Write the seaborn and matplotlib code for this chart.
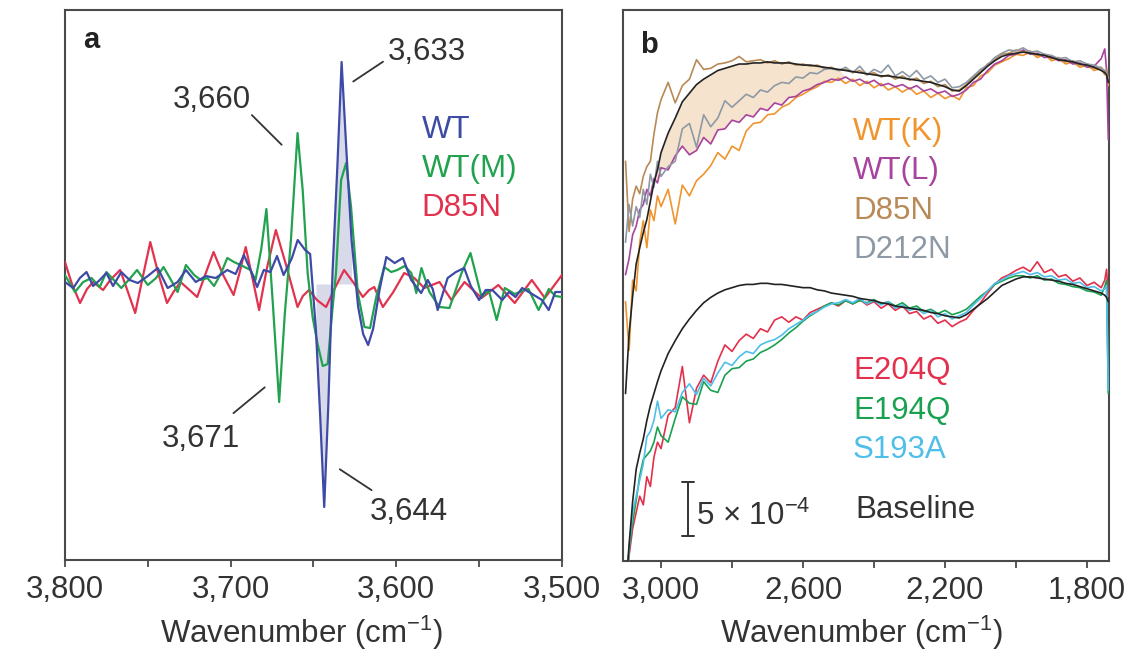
import numpy as np
import matplotlib
matplotlib.use("Agg")
import matplotlib.pyplot as plt
import matplotlib.transforms as mtransforms
from matplotlib.ticker import FixedLocator
import seaborn as sns

# ---------------- panel a: second-derivative spectra ----------------
wt_wn = [3800, 3795, 3791, 3787, 3783, 3779, 3775, 3771, 3766, 3761,
         3756, 3750, 3744, 3738, 3732, 3727, 3721, 3715, 3709, 3702,
         3697, 3692, 3688, 3684, 3680, 3676, 3672, 3668, 3663, 3659.5,
         3655, 3652, 3648.5, 3646, 3643.5, 3641, 3638.5, 3635.5, 3633, 3630,
         3627, 3623, 3620, 3617, 3614, 3610, 3606, 3601, 3596, 3591,
         3585, 3581, 3578, 3575, 3569, 3564, 3559, 3555, 3550, 3546,
         3542, 3536, 3532, 3528, 3524, 3520, 3516, 3512, 3508, 3504, 3500]
wt_d2 = [0.2, -0.4, 0.6, 1.2, -0.2, 0.4, 1.1, -0.2, 1.2, 0.4,
         0.1, 0.8, 1.6, -0.4, 0.2, 1.4, 0.2, 0.8, 0.6, 1.4,
         1.0, 2.9, 1.4, -0.3, 1.4, 1.2, 2.8, 0.9, 2.6, 4.4,
         3.4, 3.0, -4.6, -13.0, -22.3, -12.0, 1.1, 12.0, 22.2, 13.0,
         4.4, -2.3, -5.0, -6.1, -4.5, -0.5, 2.7, 2.1, 2.6, 0.4,
         -0.9, 0.4, -0.5, -2.6, 0.6, 1.2, 1.6, -0.2, -1.6, -0.6,
         -0.6, -1.6, -0.8, -1.3, -0.4, -0.8, -1.2, -1.6, -2.6, -0.8, -0.8]

wtm_wn = [3800, 3794, 3789, 3784, 3779, 3775, 3770, 3766, 3761, 3756.5,
          3750, 3745, 3740.5, 3736, 3732, 3727, 3722, 3718, 3714, 3710,
          3706, 3702, 3698, 3694, 3688, 3685, 3681.5, 3678.4, 3674.5, 3670.7,
          3667.3, 3663.6, 3659.6, 3656.5, 3653.5, 3650.5, 3647.5, 3644.4, 3641.4, 3638.8,
          3636.4, 3633.3, 3630.3, 3627.3, 3623.2, 3619.2, 3615.8, 3612.1, 3607.3, 3603,
          3599.4, 3595, 3590.9, 3587.9, 3584.8, 3580, 3573.9, 3567.9, 3560.6, 3555.2,
          3548.5, 3544.2, 3539.4, 3534.5, 3528.5, 3524, 3520.2, 3514.1, 3507.9, 3504, 3500]
wtm_d2 = [0.9, -0.8, 0.2, 0.6, -0.3, 1.2, 0.3, -0.4, 0.5, 1.4,
          -0.1, 0.6, 1.7, 0.4, -0.8, 1.9, 0.9, 0.4, 0.6, -0.2,
          1.0, 2.6, 2.2, 1.9, 1.4, 0.4, 3.5, 7.5, -2.0, -11.8,
          -3.0, 4.4, 15.1, 9.4, 1.1, -3.3, -6.0, -8.2, -8.0, -3.0,
          1.1, 10.4, 12.1, 7.7, -0.9, -4.3, -4.4, -1.3, 1.7, 1.2,
          1.4, 1.8, 1.1, -0.9, 1.6, -0.8, -2.3, -2.4, 1.1, 3.1,
          -1.3, -0.6, -3.6, -0.4, -1.0, -0.7, -0.5, -2.6, -0.5, -1.2, -1.3]

d85n_wn = [3800, 3795.8, 3790.9, 3786.7, 3783, 3777, 3772.7, 3766.7, 3762.4, 3757.6,
           3753.3, 3748.5, 3743.6, 3738.4, 3734.5, 3730.3, 3725.5, 3720.2, 3715.2, 3710.3,
           3704.8, 3698.2, 3694.5, 3690.9, 3686.7, 3682.8, 3678.2, 3672.7, 3666.7, 3659.6,
           3656.4, 3652.7, 3647.9, 3642.4, 3637, 3631.5, 3626.1, 3620.2, 3616.4, 3613.3,
           3608.1, 3601.8, 3595.2, 3589.1, 3583.1, 3573.9, 3566.7, 3558.8, 3548.5, 3538.4,
           3528.5, 3518.2, 3510.3, 3500]
d85n_d2 = [2.2, 0.0, -1.9, -0.5, 0.2, -0.6, 0.4, 1.4, -0.6, -2.9,
           0.5, 4.2, 1.0, -1.9, -0.8, 0.2, -0.5, -1.3, 1.0, 3.2,
           1.0, -1.1, 1.2, 3.7, 0.5, -2.6, 1.5, 5.4, 2.0, -2.3,
           -1.2, -0.6, -1.6, -2.3, -0.4, 1.4, 0.2, -1.3, -0.6, -0.3,
           -2.3, -0.8, 1.1, 0.6, -0.4, 0.2, -1.6, 0.2, -1.4, -0.1,
           -1.9, 0.4, -1.4, 0.9]

a_names = ["WT", "WT(M)", "D85N"]
a_colors = ["#3d4aa6", "#22a24f", "#e2334e"]
a_ticks = [3800, 3700, 3600, 3500]
a_tick_labels = ["3,800", "3,700", "3,600", "3,500"]
a_minor = [3750, 3650, 3550]
a_shade = (3627.0, 3648.5)
a_peaks = ["3,633", "3,660", "3,671", "3,644"]

# ---------------- panel b: broad continuum difference spectra ----------------
wn_b = [3100, 3090, 3080, 3070, 3060, 3050, 3040, 3030, 3020, 3010, 3000,
        2980, 2960, 2940, 2920, 2900, 2880, 2860, 2840, 2820, 2800,
        2780, 2760, 2740, 2720, 2700, 2680, 2660, 2640, 2620, 2600,
        2580, 2560, 2540, 2520, 2500, 2480, 2460, 2440, 2420, 2400,
        2380, 2360, 2340, 2320, 2300, 2280, 2260, 2240, 2220, 2200,
        2180, 2160, 2140, 2120, 2100, 2080, 2060, 2040, 2020, 2000,
        1980, 1960, 1940, 1920, 1900, 1880, 1860, 1840, 1820, 1800,
        1780, 1760,
        1750, 1745, 1740]

# absorbance change in units of 1e-4 (curves offset for display)
base_upper = [15.5, 21.0, 24.5, 27.5, 29.0, 30.4, 31.6, 33.3, 35.0, 36.2, 37.8,
              39.6, 41.0, 42.5, 43.3, 44.1, 44.6, 45.0, 45.4, 45.6, 45.8,
              46.0, 46.0, 46.1, 46.1, 46.2, 46.1, 46.1, 46.1, 46.0, 45.9,
              45.9, 45.8, 45.7, 45.6, 45.5, 45.4, 45.3, 45.2, 45.1, 45.0,
              44.9, 44.9, 44.8, 44.7, 44.6, 44.5, 44.4, 44.3, 44.1, 43.9,
              43.6, 43.5, 44.0, 44.6, 45.2, 45.8, 46.3, 46.7, 46.9, 47.0,
              47.1, 47.0, 46.9, 46.8, 46.6, 46.4, 46.3, 46.2, 46.0, 45.9,
              45.7, 45.4,
              45.2, 45.0, 44.3]
wt_k = [24.0, 19.5, 26.0, 25.0, 29.5, 31.5, 29.0, 32.5, 31.5, 33.8, 32.8,
        34.4, 31.2, 34.8, 33.8, 35.2, 35.8, 36.6, 37.8, 37.2, 38.4,
        38.0, 39.8, 40.5, 40.6, 41.3, 41.4, 42.0, 42.3, 42.9, 43.2,
        43.6, 43.9, 44.4, 44.3, 44.7, 44.2, 44.6, 44.0, 44.4, 43.8,
        44.2, 43.6, 43.9, 43.4, 43.8, 43.2, 43.5, 42.9, 43.3, 42.8,
        43.1, 42.7, 43.8, 44.0, 44.9, 45.2, 45.9, 46.2, 46.5, 46.9,
        46.8, 47.1, 46.6, 46.9, 46.3, 46.5, 46.0, 46.2, 45.7, 45.9,
        45.4, 45.6,
        45.0, 45.3, 44.0]
wt_l = [26.5, 28.0, 30.2, 31.0, 32.5, 33.0, 34.4, 33.8, 35.4, 35.0, 36.4,
        36.2, 37.5, 38.4, 37.6, 38.0, 39.2, 38.6, 39.9, 40.0, 40.8,
        40.6, 41.3, 41.1, 41.9, 41.7, 42.4, 42.2, 42.9, 43.0, 43.5,
        43.7, 44.1, 44.3, 44.6, 44.5, 44.8, 44.4, 44.6, 44.2, 44.5,
        44.0, 44.2, 43.9, 44.1, 43.7, 44.0, 43.5, 43.7, 43.3, 43.5,
        43.0, 43.2, 43.6, 44.3, 44.6, 45.4, 46.0, 46.3, 46.8, 46.9,
        47.3, 46.9, 47.0, 46.6, 46.7, 46.3, 46.4, 46.0, 46.1, 45.7,
        45.8, 46.5,
        47.4, 45.5, 39.0]
d85n_b = [37.0, 30.5, 33.5, 34.7, 34.0, 35.6, 36.5, 37.0, 39.5, 41.5, 42.7,
          44.3, 42.4, 44.0, 44.6, 46.4, 45.5, 45.6, 46.0, 46.1, 46.3,
          46.7, 46.2, 46.3, 46.4, 46.1, 46.3, 46.0, 46.2, 45.9, 46.0,
          45.8, 45.9, 45.6, 45.7, 45.4, 45.5, 45.2, 45.4, 45.0, 45.2,
          44.8, 45.0, 44.6, 44.9, 44.5, 44.7, 44.2, 44.4, 43.9, 44.1,
          43.5, 43.6, 44.1, 44.8, 45.3, 46.0, 46.4, 46.9, 47.0, 47.3,
          47.1, 47.2, 46.8, 46.9, 46.5, 46.6, 46.2, 46.3, 45.9, 46.0,
          45.6, 45.7,
          45.3, 45.5, 44.6]
d212n = [29.5, 33.0, 31.0, 32.8, 31.8, 34.4, 33.0, 35.8, 34.6, 37.0, 35.6,
         36.5, 37.0, 40.0, 40.5, 38.3, 41.3, 40.2, 41.0, 42.6, 42.0,
         42.6, 43.2, 42.9, 43.6, 43.4, 44.0, 44.3, 44.2, 44.8, 44.7,
         45.2, 45.1, 45.5, 45.6, 45.4, 45.7, 45.2, 45.8, 45.0, 45.5,
         45.2, 45.9, 44.9, 45.3, 44.8, 45.4, 44.6, 44.9, 44.3, 44.6,
         43.8, 43.9, 44.3, 44.9, 45.5, 45.9, 46.6, 47.0, 47.3, 47.2,
         47.5, 47.1, 47.2, 46.9, 46.8, 46.5, 46.6, 46.2, 46.3, 46.0,
         45.9, 45.6,
         45.4, 45.2, 44.5]

base_lower = [-3.0, 1.5, 5.5, 8.5, 10.0, 11.3, 13.0, 14.4, 15.5, 16.6, 17.6,
              19.2, 20.4, 21.5, 22.4, 23.2, 23.9, 24.4, 24.8, 25.1, 25.3,
              25.5, 25.6, 25.6, 25.7, 25.7, 25.6, 25.6, 25.5, 25.4, 25.3,
              25.3, 25.1, 25.0, 24.8, 24.7, 24.6, 24.5, 24.3, 24.2, 24.1,
              23.9, 23.8, 23.6, 23.5, 23.4, 23.3, 23.2, 23.0, 22.9, 22.7,
              22.6, 22.5, 22.8, 23.3, 23.8, 24.3, 24.9, 25.5, 25.8, 26.1,
              26.3, 26.3, 26.2, 26.1, 26.0, 25.9, 25.7, 25.6, 25.4, 25.2,
              25.0, 24.8,
              24.6, 24.4, 24.0]
e204q = [-4.0, 0.5, 3.0, 4.5, 6.0, 5.2, 7.8, 6.9, 9.6, 11.0, 10.4,
         13.5, 14.2, 18.0, 12.8, 16.0, 17.2, 16.5, 18.5, 20.0, 19.4,
         20.4, 21.0, 20.6, 21.5, 21.2, 22.3, 22.6, 22.1, 22.6, 22.3,
         23.0, 23.3, 23.6, 23.9, 23.6, 24.1, 23.8, 24.2, 23.7, 24.0,
         23.4, 23.8, 23.2, 23.6, 22.9, 23.1, 22.4, 22.7, 22.0, 22.3,
         21.7, 22.1, 22.4, 23.2, 23.9, 24.8, 25.6, 26.2, 26.5, 26.9,
         27.2, 26.8, 27.7, 26.7, 27.0, 26.3, 26.5, 25.9, 26.2, 25.5,
         25.8, 25.3,
         26.0, 27.0, 24.5]
e194q = [-3.0, 1.0, 3.6, 5.6, 7.9, 9.4, 9.8, 10.2, 11.0, 12.4, 11.6,
         11.0, 13.2, 15.2, 14.6, 14.5, 16.6, 15.8, 15.6, 17.2, 17.8,
         17.9, 18.5, 18.7, 19.3, 19.6, 20.0, 20.5, 21.1, 21.6, 22.2,
         22.7, 23.1, 23.6, 23.9, 23.7, 24.1, 23.8, 24.1, 23.9, 24.2,
         23.8, 24.0, 23.6, 23.9, 23.4, 23.6, 23.1, 23.3, 22.9, 23.2,
         22.8, 23.0, 23.3, 23.9, 24.5, 25.0, 25.6, 25.9, 26.2, 26.4,
         26.4, 26.2, 26.4, 26.0, 26.1, 25.7, 25.6, 25.4, 25.3, 25.0,
         24.9, 24.6,
         25.4, 26.0, 15.5]
s193a = [-3.5, 1.2, 4.5, 6.0, 7.5, 9.0, 11.5, 12.0, 13.0, 14.8, 13.2,
         14.0, 13.8, 15.6, 16.4, 15.4, 16.9, 16.2, 17.4, 18.4, 18.1,
         18.9, 19.4, 19.2, 20.0, 20.3, 20.5, 20.9, 21.5, 21.9, 22.3,
         22.8, 23.1, 23.5, 23.8, 23.9, 24.2, 23.9, 24.3, 23.8, 24.1,
         23.7, 24.0, 23.4, 23.7, 23.2, 23.4, 22.9, 23.2, 22.6, 22.9,
         22.4, 22.7, 23.0, 23.7, 24.3, 25.0, 25.7, 26.0, 26.4, 26.6,
         26.8, 26.5, 26.7, 26.3, 26.4, 26.0, 26.1, 25.7, 25.8, 25.3,
         25.4, 25.0,
         25.2, 25.5, 15.8]

b_upper_names = ["WT(K)", "WT(L)", "D85N", "D212N"]
b_upper_colors = ["#f0952d", "#a8449e", "#b98a55", "#8e99a6"]
b_lower_names = ["E204Q", "E194Q", "S193A"]
b_lower_colors = ["#e3304c", "#1aa150", "#4fbfea"]
b_ticks = [3000, 2600, 2200, 1800]
b_tick_labels = ["3,000", "2,600", "2,200", "1,800"]
b_minor = [2800, 2400, 2000]
b_shade = (2500, 3040)
scale_bar = (2.3, 7.3)          # 5 x 1e-4 absorbance

# ---------------- styling ----------------
sns.set_theme(style="white")
plt.rcParams["font.family"] = ["Liberation Sans", "DejaVu Sans"]
plt.rcParams["mathtext.fontset"] = "custom"
plt.rcParams["mathtext.rm"] = "Liberation Sans"
plt.rcParams["mathtext.it"] = "Liberation Sans:italic"
plt.rcParams["mathtext.bf"] = "Liberation Sans:bold"

TXT = "#333333"
FS = 22.5
SPINE = "#4a4a4a"

fig = plt.figure(figsize=(11.32, 6.58), dpi=100)
ax_a = fig.add_axes([0.0574, 0.1489, 0.4390, 0.8359])
ax_b = fig.add_axes([0.5504, 0.1474, 0.4293, 0.8374])

for ax in (ax_a, ax_b):
    for s in ax.spines.values():
        s.set_color(SPINE)
        s.set_linewidth(1.5)
    ax.set_yticks([])
    ax.tick_params(axis="x", which="both", direction="out", length=5,
                   width=1.3, color=SPINE, labelsize=FS, labelcolor=TXT,
                   pad=6, bottom=True)

# ---- panel a ----
lo, hi = a_shade
mask = [(lo <= w <= hi) for w in wt_wn]
ax_a.fill_between(wt_wn, wt_d2, 0, where=mask, color="#d9dae9",
                  lw=0, zorder=1)
for wn, val, col in [(d85n_wn, d85n_d2, a_colors[2]),
                     (wtm_wn, wtm_d2, a_colors[1]),
                     (wt_wn, wt_d2, a_colors[0])]:
    sns.lineplot(x=wn, y=val, ax=ax_a, color=col, lw=1.6, sort=False,
                 estimator=None, legend=False, zorder=3,
                 solid_joinstyle="round")

ax_a.set_xlim(3800, 3500)
ax_a.set_ylim(-27.6, 27.4)
ax_a.set_xticks(a_ticks, labels=a_tick_labels)
ax_a.xaxis.set_minor_locator(FixedLocator(a_minor))
ax_a.set_xlabel("Wavenumber (cm$^{-1}$)", fontsize=FS, color=TXT)
ax_a.xaxis.set_label_coords(0.477, -0.098)
ax_a.set_ylabel("d$^{2}$(\u0394Absorbance)/d$\\tilde{\\nu}^{2}$",
                fontsize=FS, color=TXT)
ax_a.yaxis.set_label_coords(-0.030, 0.476)

ax_a.text(0.036, 0.931, "a", transform=ax_a.transAxes, fontsize=21,
          fontweight="bold", color="#222222", va="baseline")
for i, (name, col) in enumerate(zip(a_names, a_colors)):
    ax_a.text(0.718, 0.767 - i * 0.0705, name, transform=ax_a.transAxes,
              fontsize=FS, color=col, va="baseline")

# peak labels with leader lines (axes-fraction positions)
peak_pos = [(0.650, 0.909), (0.217, 0.821), (0.195, 0.206), (0.614, 0.073)]
leaders = [((0.580, 0.870), (0.640, 0.906)),
           ((0.376, 0.809), (0.436, 0.755)),
           ((0.339, 0.267), (0.402, 0.314)),
           ((0.553, 0.165), (0.617, 0.127))]
for lab, (tx, ty), (p0, p1) in zip(a_peaks, peak_pos, leaders):
    ax_a.text(tx, ty, lab, transform=ax_a.transAxes, fontsize=FS,
              color=TXT, va="baseline")
    ax_a.plot([p0[0], p1[0]], [p0[1], p1[1]], transform=ax_a.transAxes,
              color=TXT, lw=1.3)

# ---- panel b ----
lo, hi = b_shade
mask_b = [(lo <= w <= hi) and (bu > wl)
          for w, bu, wl in zip(wn_b, base_upper, wt_l)]
ax_b.fill_between(wn_b, wt_l, base_upper, where=mask_b, interpolate=True,
                  color="#f6e3cd", lw=0, zorder=1)

for vals, col in zip([wt_k, wt_l, d85n_b, d212n], b_upper_colors):
    sns.lineplot(x=wn_b, y=vals, ax=ax_b, color=col, lw=1.2, sort=False,
                 estimator=None, legend=False, zorder=3)
sns.lineplot(x=wn_b, y=base_upper, ax=ax_b, color="#222222", lw=1.2,
             sort=False, estimator=None, legend=False, zorder=4)
for vals, col in zip([e204q, e194q, s193a], b_lower_colors):
    sns.lineplot(x=wn_b, y=vals, ax=ax_b, color=col, lw=1.2, sort=False,
                 estimator=None, legend=False, zorder=3)
sns.lineplot(x=wn_b, y=base_lower, ax=ax_b, color="#222222", lw=1.2,
             sort=False, estimator=None, legend=False, zorder=4)

ax_b.set_xlim(3107, 1738)
ax_b.set_ylim(0, 51)
ax_b.set_xticks(b_ticks, labels=b_tick_labels)
ax_b.xaxis.set_minor_locator(FixedLocator(b_minor))
ax_b.set_xlabel("Wavenumber (cm$^{-1}$)", fontsize=FS, color=TXT)
ax_b.xaxis.set_label_coords(0.491, -0.096)
ax_b.set_ylabel("\u0394Absorbance", fontsize=FS, color=TXT)
ax_b.yaxis.set_label_coords(-0.014, 0.51)

ax_b.text(0.035, 0.922, "b", transform=ax_b.transAxes, fontsize=21,
          fontweight="bold", color="#222222", va="baseline")
for i, (name, col) in enumerate(zip(b_upper_names, b_upper_colors)):
    ax_b.text(0.473, 0.764 - i * 0.0715, name, transform=ax_b.transAxes,
              fontsize=FS, color=col, va="baseline")
for i, (name, col) in enumerate(zip(b_lower_names, b_lower_colors)):
    ax_b.text(0.473, 0.330 - i * 0.0715, name, transform=ax_b.transAxes,
              fontsize=FS, color=col, va="baseline")
ax_b.text(0.479, 0.078, "Baseline", transform=ax_b.transAxes, fontsize=FS,
          color=TXT, va="baseline")

# 5e-4 scale bar
blend = mtransforms.blended_transform_factory(ax_b.transAxes, ax_b.transData)
y0, y1 = scale_bar
ax_b.plot([0.134, 0.134], [y0, y1], transform=blend, color=TXT, lw=1.4)
for yy in (y0, y1):
    ax_b.plot([0.121, 0.147], [yy, yy], transform=blend, color=TXT, lw=1.4)
ax_b.text(0.150, 0.065, "5 \u00d7 10$^{-4}$", transform=ax_b.transAxes,
          fontsize=FS, color=TXT, va="baseline")

fig.savefig("out.png", dpi=100)
